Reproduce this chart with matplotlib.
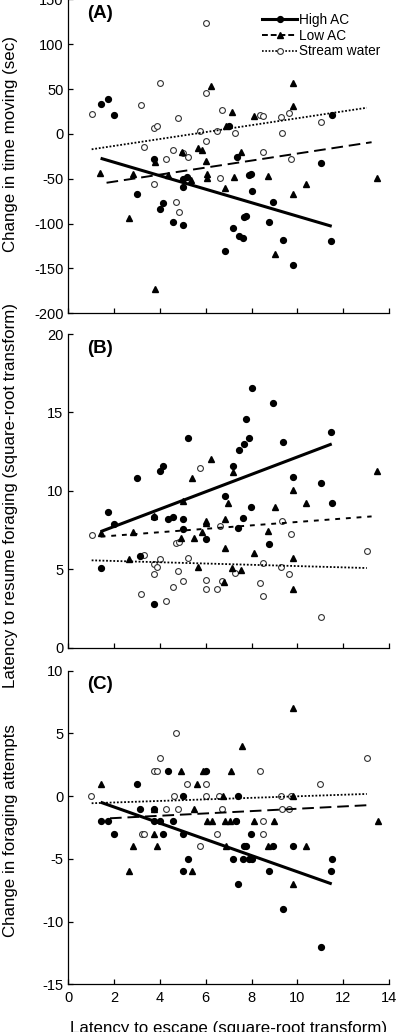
import numpy as np
import matplotlib
matplotlib.use("Agg")
import matplotlib.pyplot as plt
from matplotlib.lines import Line2D

plt.rcParams['font.family'] = ['Liberation Sans', 'DejaVu Sans']
plt.rcParams['axes.unicode_minus'] = False

# ---- panel A : change in time moving (sec)
a_high_x = [1.41, 1.75, 2.01, 3.01, 3.74, 4.00, 4.13, 4.58, 5.01, 5.01, 5.01, 5.18, 6.84, 7.00, 7.20,
            7.37, 7.44, 7.64, 7.68, 7.77, 7.90, 7.96, 8.00, 8.78, 8.95, 9.39, 9.79, 11.02, 11.47, 11.50]
a_high_y = [32.8, 38.8, 20.5, -67.2, -27.6, -83.6, -76.5, -98.5, -101.5, -59.3, -50.0, -48.1, -130.6, 9.0, -104.5,
            -25.7, -113.4, -115.7, -92.2, -91.4, -45.5, -44.4, -63.8, -97.8, -76.1, -117.9, -145.9, -32.5, -119.4, 20.9]
a_low_x = [1.40, 2.66, 2.84, 3.77, 3.77, 4.35, 4.96, 5.37, 5.66, 5.84, 6.00, 6.07, 6.07, 6.24, 6.85, 6.90,
           7.16, 7.22, 7.54, 8.11, 8.73, 9.01, 9.82, 9.82, 9.79, 10.39, 13.49]
a_low_y = [-43.7, -93.7, -44.4, -31.3, -172.4, -45.5, -20.1, -51.1, -15.3, -17.5, -30.6, -45.1, -49.3, 53.7, -60.1, 9.0,
           24.6, -48.1, -20.1, 20.1, -47.4, -134.0, 56.3, 31.3, -66.8, -55.6, -49.6]
a_str_x = [1.02, 3.16, 3.30, 3.74, 3.87, 3.74, 4.00, 4.25, 4.58, 4.70, 4.80, 4.82, 5.02, 5.21, 5.75,
           6.01, 6.01, 6.01, 6.51, 6.64, 6.71, 7.29, 8.35, 8.50, 8.50, 9.29, 9.34, 9.65, 9.71, 11.02]
a_str_y = [21.6, 31.7, -14.2, 6.7, 9.3, -56.0, 57.1, -28.4, -18.3, -75.7, 17.5, -86.6, -21.3, -25.4, 3.7,
           123.1, 45.9, -7.5, 3.7, -49.6, 26.9, 1.5, 20.9, 19.8, -20.1, 18.7, 0.7, 23.5, -27.6, 12.7]
a_fit_high = ([1.41, 11.50], [-27.2, -103.0])
a_fit_low = ([1.67, 13.24], [-54.5, -9.3])
a_fit_str = ([1.02, 13.03], [-17.2, 29.1])

# ---- panel B : latency to resume foraging
b_high_x = [1.41, 1.75, 2.01, 3.01, 3.15, 3.74, 3.74, 4.00, 4.13, 4.37, 4.58, 5.01, 5.01, 5.21, 6.03, 6.85,
            7.20, 7.41, 7.44, 7.68, 7.77, 7.90, 7.96, 7.64, 8.00, 8.78, 8.95, 9.39, 9.81, 11.02, 11.47, 11.50]
b_high_y = [5.08, 8.63, 7.88, 10.84, 5.82, 2.78, 8.35, 11.29, 11.60, 8.18, 8.31, 8.23, 7.55, 13.37, 6.93, 9.65,
            11.60, 7.61, 12.60, 12.99, 14.56, 13.39, 8.99, 8.29, 16.58, 6.61, 15.58, 13.09, 10.90, 10.52, 13.77, 9.25]
b_low_x = [1.41, 2.84, 2.66, 3.74, 5.01, 4.93, 5.39, 5.50, 5.66, 5.82, 6.03, 6.03, 6.24, 6.78, 6.85, 6.85,
           6.99, 7.20, 7.13, 7.55, 8.12, 8.73, 9.01, 9.81, 10.39, 9.81, 9.80, 13.49]
b_low_y = [7.29, 7.35, 5.67, 8.40, 9.33, 6.97, 10.84, 6.97, 5.16, 7.35, 8.08, 7.93, 12.01, 4.21, 8.18, 6.35,
           9.24, 11.18, 5.06, 4.95, 6.06, 7.46, 8.99, 10.03, 9.25, 5.74, 3.72, 11.29]
b_str_x = [1.02, 3.16, 3.30, 3.74, 3.74, 3.87, 4.00, 4.25, 4.58, 4.70, 4.82, 4.80, 5.02, 5.21, 5.75,
           6.01, 6.01, 6.51, 6.64, 6.71, 7.29, 8.35, 8.50, 8.50, 9.29, 9.34, 9.65, 9.71, 11.02, 13.04]
b_str_y = [7.21, 3.42, 5.91, 5.31, 4.68, 5.16, 5.63, 3.00, 3.85, 6.67, 6.76, 4.89, 4.23, 5.72, 11.46,
           4.34, 3.72, 3.72, 7.78, 4.23, 4.76, 4.10, 5.38, 3.29, 5.16, 8.08, 4.68, 7.27, 1.98, 6.14]
b_fit_high = ([1.41, 11.50], [7.40, 12.99])
b_fit_low = ([1.41, 13.24], [7.08, 8.37])
b_fit_str = ([1.02, 13.03], [5.57, 5.08])

# ---- panel C : change in foraging attempts
c_high_x = [1.41, 1.75, 2.01, 3.01, 3.15, 3.74, 3.74, 4.00, 4.13, 4.37, 4.58, 5.01, 5.01, 5.01, 5.21, 6.03, 7.20,
            7.33, 7.41, 7.41, 7.64, 7.68, 7.77, 7.90, 8.00, 7.96, 8.78, 8.95, 9.39, 9.81, 11.02, 11.47, 11.50]
c_high_y = [-2, -2, -3, 1, -1, -1, -2, -2, -3, 2, -2, 0, -3, -6, -5, 2, -5,
            -2, 0, -7, -5, -4, -4, -5, -5, -3, -6, -4, -9, -4, -12, -6, -5]
c_low_x = [1.41, 2.65, 2.84, 3.74, 3.74, 3.86, 4.90, 5.40, 5.49, 5.63, 5.88, 6.04, 6.27, 6.77, 6.87, 6.84,
           7.04, 7.12, 7.57, 8.10, 8.70, 9.00, 9.81, 9.81, 9.81, 10.39, 13.50]
c_low_y = [1, -6, -4, -1, -3, -4, 2, -6, -1, 1, 2, -2, -2, 0, -4, -2,
           -2, 2, 4, -2, -4, -2, 7, 0, -7, -4, -2]
c_str_x = [1.00, 3.20, 3.30, 3.74, 3.87, 4.02, 4.25, 4.61, 4.70, 4.79, 5.20, 5.75, 6.00, 6.00,
           6.49, 6.60, 6.70, 7.30, 8.37, 8.49, 8.49, 9.27, 9.32, 9.65, 9.71, 11.00, 13.04]
c_str_y = [0, -3, -3, 2, 2, 3, -1, 0, 5, -1, 1, -4, 1, 0,
           -3, 0, -1, -2, 2, -2, -3, 0, -1, -1, 0, 1, 3]
c_fit_high = ([1.41, 11.50], [-0.49, -7.0])
c_fit_low = ([1.82, 13.24], [-1.77, -0.71])
c_fit_str = ([1.02, 13.03], [-0.57, 0.17])

W, H = 405, 1032
fig = plt.figure(figsize=(W / 100, H / 100), dpi=100)

left = 68.3 / W
width = 320.7 / W
axA = fig.add_axes([left, (H - 313.3) / H, width, 314 / H])
axB = fig.add_axes([left, (H - 647.7) / H, width, 313.7 / H])
axC = fig.add_axes([left, (H - 984.3) / H, width, 313.7 / H])

ms = 4.2
open_kw = dict(marker='o', ls='none', ms=ms, mfc='white', mec='#333333', mew=0.8)
high_kw = dict(marker='o', ls='none', ms=ms, color='black')
low_kw = dict(marker='^', ls='none', ms=ms + 0.4, color='black')

panels = [
    (axA, a_high_x, a_high_y, a_low_x, a_low_y, a_str_x, a_str_y, a_fit_high, a_fit_low, a_fit_str,
     (-200, 150), np.arange(-200, 151, 50), '(A)', (0, (6, 3))),
    (axB, b_high_x, b_high_y, b_low_x, b_low_y, b_str_x, b_str_y, b_fit_high, b_fit_low, b_fit_str,
     (0, 20), np.arange(0, 21, 5), '(B)', (0, (2.5, 3))),
    (axC, c_high_x, c_high_y, c_low_x, c_low_y, c_str_x, c_str_y, c_fit_high, c_fit_low, c_fit_str,
     (-15, 10), np.arange(-15, 11, 5), '(C)', (0, (6, 3))),
]

for ax, hx, hy, lx, ly, sx, sy, fh, fl, fs, ylim, yt, tag, lowdash in panels:
    ax.plot(sx, sy, **open_kw)
    ax.plot(lx, ly, **low_kw)
    ax.plot(hx, hy, **high_kw)
    ax.plot(fs[0], fs[1], color='black', lw=1.3, ls=(0, (1, 1)))
    ax.plot(fl[0], fl[1], color='black', lw=1.4, ls=lowdash)
    ax.plot(fh[0], fh[1], color='black', lw=2.2, solid_capstyle='butt')
    ax.set_xlim(0, 14)
    ax.set_ylim(*ylim)
    ax.set_xticks(np.arange(0, 15, 2))
    ax.set_yticks(yt)
    ax.spines['top'].set_visible(False)
    ax.spines['right'].set_visible(False)
    for s in ('left', 'bottom'):
        ax.spines[s].set_linewidth(0.9)
    ax.tick_params(direction='in', length=3.5, width=0.9, labelsize=10.5, pad=3.5)
    ax.text(0.058, 0.982, tag, transform=ax.transAxes, fontsize=13.5, fontweight='bold',
            ha='left', va='top')

axA.tick_params(axis='x', labelbottom=False)
axB.tick_params(axis='x', labelbottom=False)
axC.tick_params(axis='x', pad=4.5)

handles = [
    Line2D([], [], color='black', lw=2.2, marker='o', ms=ms),
    Line2D([], [], color='black', lw=1.4, ls=(0, (3, 1.5)), marker='^', ms=ms + 0.4),
    Line2D([], [], color='black', lw=1.2, ls=(0, (1, 1)), marker='o', ms=ms, mfc='white', mec='#333333', mew=0.8),
]
axA.legend(handles, ['High AC', 'Low AC', 'Stream water'], loc='upper left',
           bbox_to_anchor=((262 - 68.3) / 320.7, (313.3 - 13) / 314), frameon=False,
           fontsize=9.8, handlelength=2.6, handletextpad=0.15, labelspacing=0.12,
           borderpad=0, borderaxespad=0)

fig.text(11 / W, 1 - 143.5 / H, 'Change in time moving (sec)', rotation=90,
         ha='center', va='center', fontsize=12.2)
fig.text(11 / W, 1 - 495 / H, 'Latency to resume foraging (square-root transform)', rotation=90,
         ha='center', va='center', fontsize=12.2)
fig.text(11 / W, 1 - 831 / H, 'Change in foraging attempts', rotation=90,
         ha='center', va='center', fontsize=12.2)
fig.text(228.5 / W, 1 - 1021 / H, 'Latency to escape (square-root transform)',
         ha='center', va='top', fontsize=12.2)

fig.savefig('out.png', dpi=100)
